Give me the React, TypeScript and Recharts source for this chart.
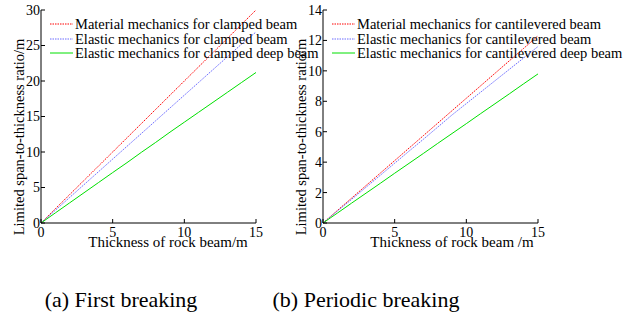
import React from "react"
import { LineChart, Line, XAxis, YAxis } from "recharts"

const thickness = [0, 1, 2, 3, 4, 5, 6, 7, 8, 9, 10, 11, 12, 13, 14, 15]

// (a) first breaking, clamped beam
const clampedMaterial = [0, 2, 4, 6, 8, 10, 12, 14, 16, 18, 20, 22, 24, 26, 28, 30]
const clampedElastic = [0, 1.8, 3.6, 5.4, 7.2, 9.0, 10.8, 12.6, 14.4, 16.2, 18.0, 19.8, 21.6, 23.4, 25.2, 26.9]
const clampedDeep = [0, 1.42, 2.84, 4.26, 5.68, 7.1, 8.5, 9.95, 11.35, 12.8, 14.2, 15.6, 17.0, 18.4, 19.8, 21.2]

// (b) periodic breaking, cantilevered beam
const cantMaterial = [0, 0.82, 1.64, 2.46, 3.28, 4.1, 4.92, 5.74, 6.56, 7.38, 8.2, 9.02, 9.84, 10.66, 11.48, 12.3]
const cantElastic = [0, 0.78, 1.56, 2.35, 3.14, 3.93, 4.72, 5.5, 6.3, 7.1, 7.85, 8.6, 9.35, 10.1, 10.85, 11.6]
const cantDeep = [0, 0.65, 1.31, 1.96, 2.61, 3.27, 3.92, 4.57, 5.23, 5.88, 6.53, 7.19, 7.84, 8.49, 9.15, 9.8]

const xTicks = [0, 5, 10, 15]
const yTicksA = [0, 5, 10, 15, 20, 25, 30]
const yTicksB = [0, 2, 4, 6, 8, 10, 12, 14]

const legendA = [
  "Material mechanics for clamped beam",
  "Elastic mechanics for clamped beam",
  "Elastic mechanics for clamped deep beam",
]
const legendB = [
  "Material mechanics for cantilevered beam",
  "Elastic mechanics for cantilevered beam",
  "Elastic mechanics for cantilevered deep beam",
]

const FONT = "Liberation Serif"
const styles = [
  { color: "#ff0000", dash: "1.5 1" },
  { color: "#6b6bff", dash: "1.5 1" },
  { color: "#00e000", dash: undefined },
]

const build = (a: number[], b: number[], c: number[]) =>
  thickness.map((t, i) => ({ t, s0: a[i], s1: b[i], s2: c[i] }))

const tickStyle = { fontSize: 14, fontFamily: FONT, fill: "#000" }

function Panel({ left, data, yMax, yTicks, legend, xTitle, caption }: any) {
  return (
    <div style={{ position: "absolute", left, top: 0, width: 300, height: 323, fontFamily: FONT }}>
      <LineChart width={300} height={250} data={data} margin={{ top: 10, right: 44, bottom: 0, left: 0 }}
        style={{ fontFamily: FONT }}>
        <XAxis dataKey="t" type="number" domain={[0, 15]} ticks={xTicks} height={27}
          tickSize={-4} tickMargin={8} tick={tickStyle}
          axisLine={{ stroke: "#000" }} tickLine={{ stroke: "#000" }} />
        <XAxis xAxisId="top" dataKey="t" type="number" domain={[0, 15]} ticks={xTicks} orientation="top"
          height={0} tickSize={-4} tick={false} axisLine={{ stroke: "#000" }} tickLine={{ stroke: "#000" }} />
        <YAxis type="number" domain={[0, yMax]} ticks={yTicks} width={41}
          tickSize={-4} tickMargin={5} tick={tickStyle}
          axisLine={{ stroke: "#000" }} tickLine={{ stroke: "#000" }} />
        <YAxis yAxisId="right" type="number" domain={[0, yMax]} ticks={yTicks} orientation="right" width={0}
          tickSize={-4} tick={false} axisLine={{ stroke: "#000" }} tickLine={{ stroke: "#000" }} />
        {["s0", "s1", "s2"].map((k, i) => (
          <Line key={k} dataKey={k} type="linear" stroke={styles[i].color} strokeDasharray={styles[i].dash}
            strokeWidth={1} dot={false} isAnimationActive={false} />
        ))}
      </LineChart>
      <div style={{ position: "absolute", left: 50, top: 17, fontSize: 14.5, lineHeight: "14.6px", whiteSpace: "nowrap" }}>
        {legend.map((name: string, i: number) => (
          <div key={name} style={{ display: "flex", alignItems: "center", height: 14.6 }}>
            <svg width={25} height={6} style={{ flex: "none" }}>
              <line x1={0} x2={23} y1={3} y2={3} stroke={styles[i].color} strokeDasharray={styles[i].dash} strokeWidth={1} />
            </svg>
            <span>{name}</span>
          </div>
        ))}
      </div>
      <div style={{ position: "absolute", left: xTitle - 150, top: 237, width: 300, textAlign: "center", fontSize: 15, lineHeight: "11px", whiteSpace: "nowrap" }}>
        {left === 0 ? "Thickness of rock beam/m" : "Thickness of rock beam /m"}
      </div>
      <div style={{ position: "absolute", left: 19 - 120, top: 137 - 8, width: 240, height: 16, textAlign: "center", fontSize: 14.5, lineHeight: "16px", whiteSpace: "nowrap", transform: "rotate(-90deg)" }}>
        Limited span-to-thickness ratio/m
      </div>
      <div style={{ position: "absolute", left: caption - 150, top: 289, width: 300, textAlign: "center", fontSize: 22, lineHeight: "22px", whiteSpace: "nowrap" }}>
        {left === 0 ? "(a) First breaking" : "(b) Periodic breaking"}
      </div>
    </div>
  )
}

export default function App() {
  return (
    <div style={{ position: "absolute", left: 0, top: 0, width: 641, height: 323, background: "#fff", overflow: "hidden" }}>
      <Panel left={0} data={build(clampedMaterial, clampedElastic, clampedDeep)} yMax={30} yTicks={yTicksA}
        legend={legendA} xTitle={168} caption={121} />
      <Panel left={282} data={build(cantMaterial, cantElastic, cantDeep)} yMax={14} yTicks={yTicksB}
        legend={legendB} xTitle={170} caption={84} />
    </div>
  )
}
